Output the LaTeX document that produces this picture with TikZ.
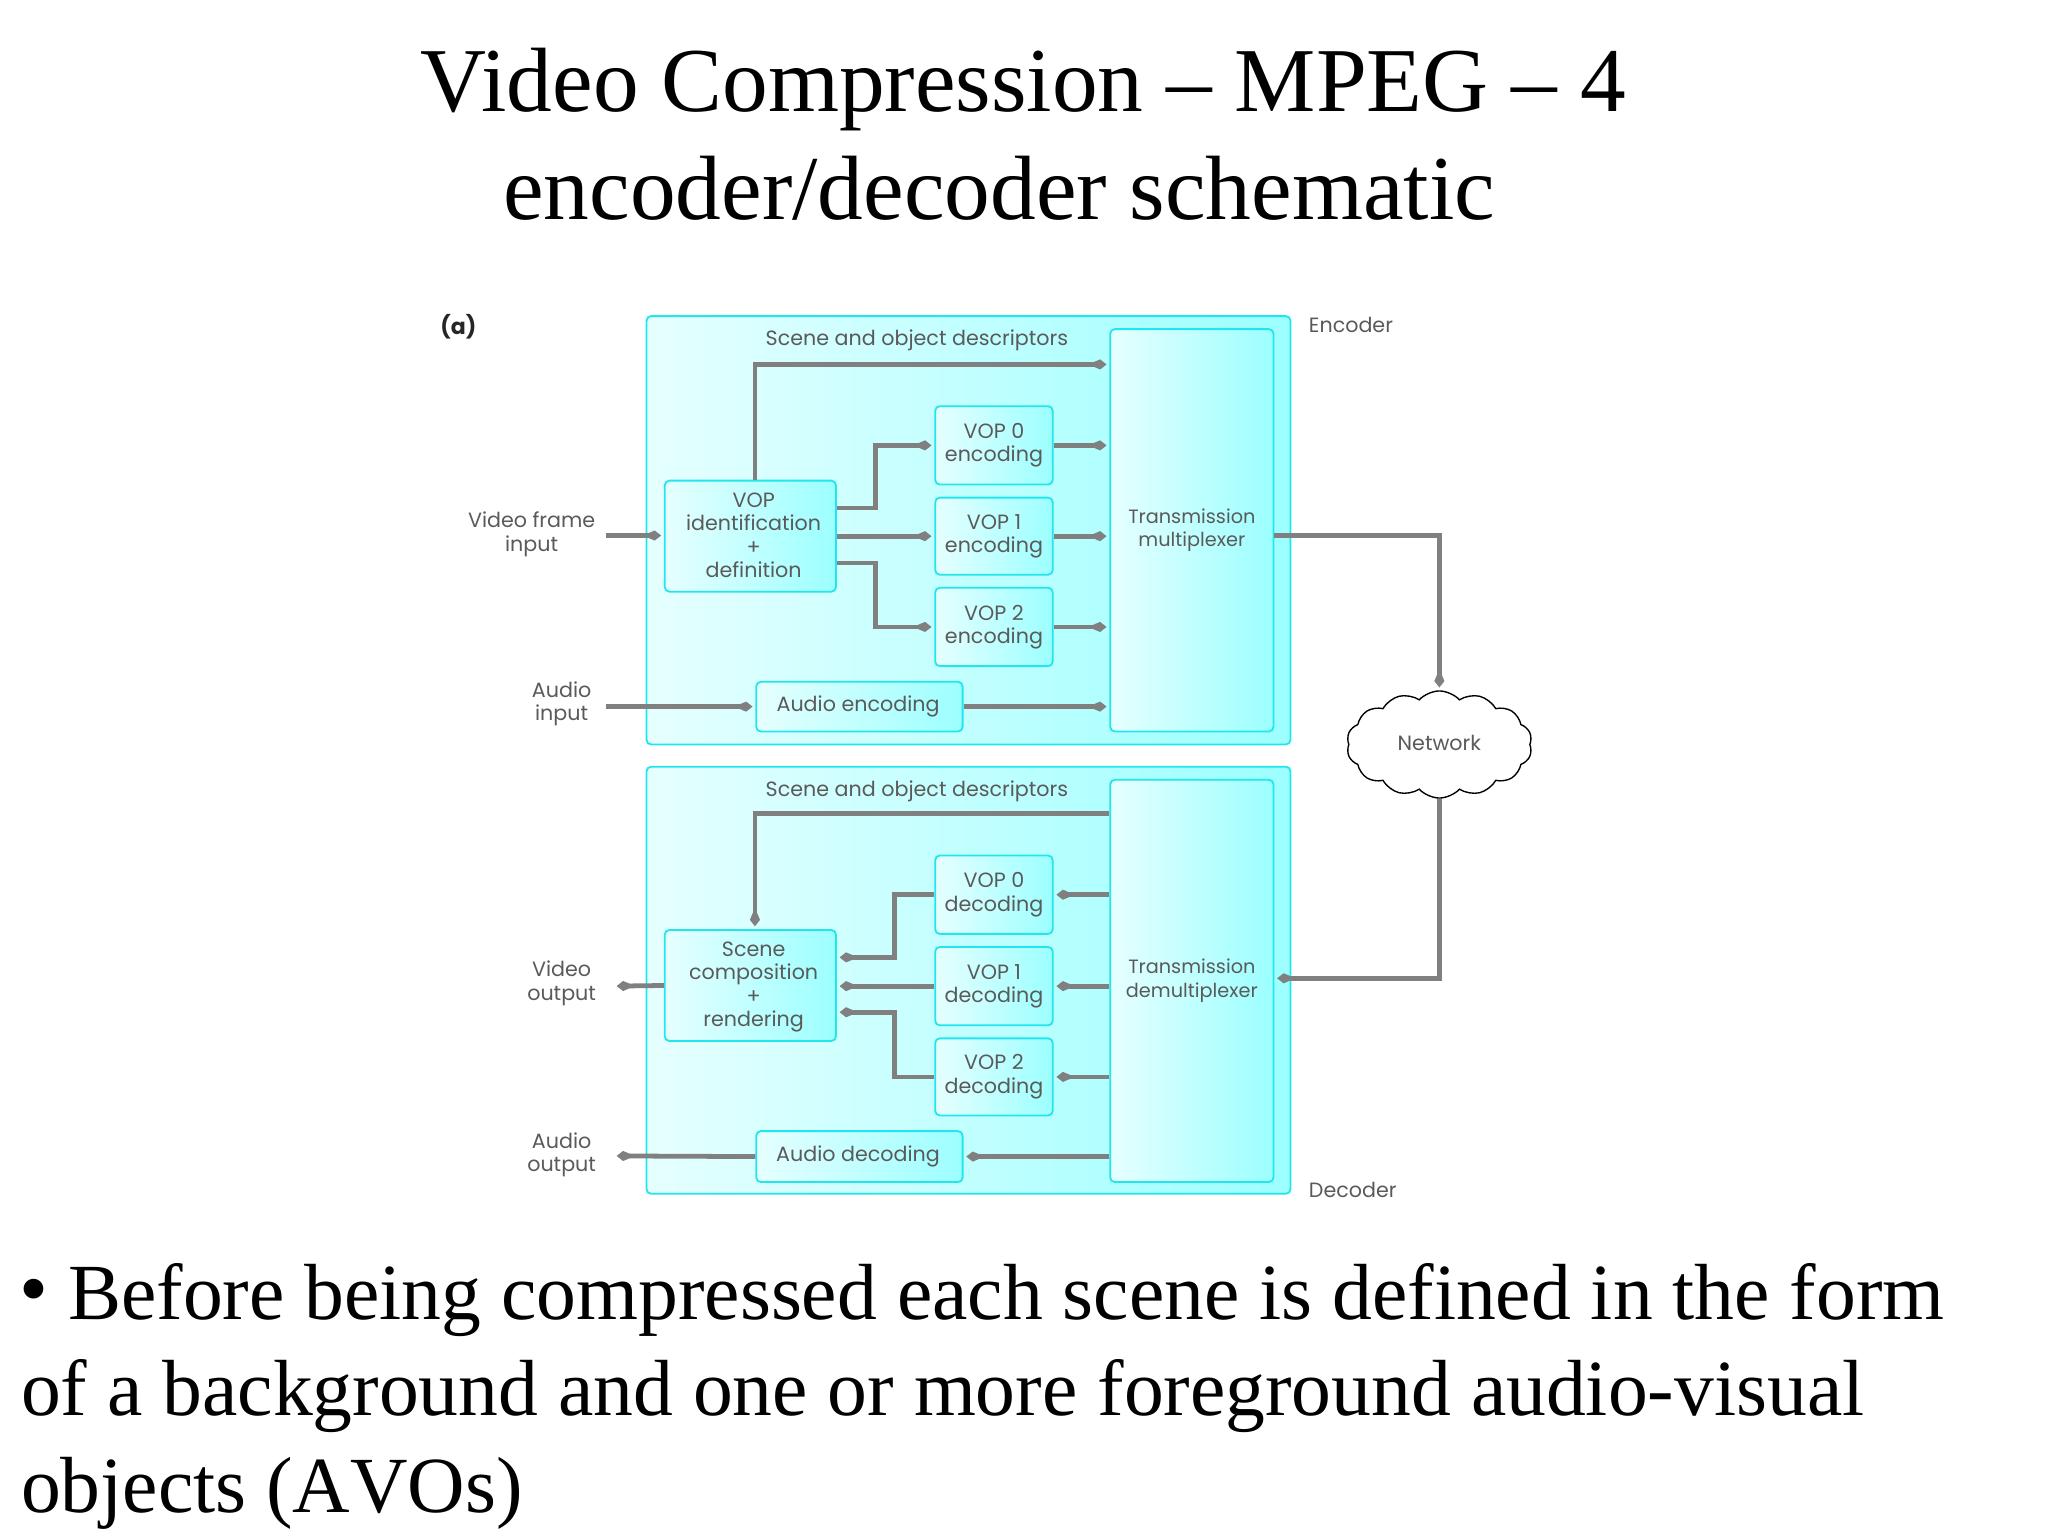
\documentclass[tikz,border=0pt]{standalone}
\usepackage{fontspec}
\setmainfont{Liberation Serif}
\newfontfamily\dgfont{Poppins}
\usetikzlibrary{arrows.meta,shapes.symbols,calc}
\definecolor{cyanline}{HTML}{22E6EE}
\definecolor{pale}{HTML}{E6FFFF}
\definecolor{deep}{HTML}{9CFFFF}
\definecolor{wire}{HTML}{808080}
\definecolor{lbl}{HTML}{5A5A5A}
\tikzset{
  panel/.style={draw=cyanline,line width=2pt,rounded corners=5pt,left color=pale,right color=deep,
    inner sep=0pt,minimum width=#1},
  blockbox/.style={panel=#1,font=\dgfont\fontsize{22.5}{25.6}\selectfont,text=lbl,align=center},
  dlabel/.style={font=\dgfont\fontsize{22.5}{25.6}\selectfont,text=lbl,align=center,inner sep=0pt},
  wirearrow/.style={draw=wire,line width=5.2pt,-{Kite[length=20pt,width=11pt,inset=13pt]},shorten >=3pt},
  titletext/.style={font=\fontsize{99.5}{99.5}\selectfont,inner sep=0pt,anchor=base},
  bodytext/.style={font=\fontsize{86.7}{86.7}\selectfont,inner sep=0pt,anchor=base west},
}
\begin{document}
\begin{tikzpicture}[x=0.05cm,y=-0.05cm]
\useasboundingbox (0,0) rectangle (1568,1176);
% title
\node[titletext] (t1) at (783.5,85) {Video Compression – MPEG – 4};
\node[titletext] (t2) at (765,168) {encoder/decoder schematic};
% panels
\node[panel=493*0.05cm,minimum height=328*0.05cm] (enc) at (741.5,406) {};
\node[panel=493*0.05cm,minimum height=327*0.05cm] (dec) at (741.5,750.5) {};
\node[blockbox=125*0.05cm,minimum height=308*0.05cm] (mux) at (912.5,406) {};
\node[blockbox=125*0.05cm,minimum height=308*0.05cm] (demux) at (912.5,751) {};
\node[dlabel,font=\dgfont\fontsize{21}{25.6}\selectfont] (muxl) at (912.5,406) {Transmission\\multiplexer};
\node[dlabel,font=\dgfont\fontsize{21}{25.6}\selectfont] (demuxl) at (912.5,751) {Transmission\\demultiplexer};
\node[blockbox=131*0.05cm,minimum height=85*0.05cm] (vopid) at (574.5,410.5) {};
\node[blockbox=131*0.05cm,minimum height=85*0.05cm] (scene) at (574.5,754.5) {};
\node[dlabel] (vopidl) at (577,410) {VOP\\identification\\+\\definition};
\node[dlabel] (scenel) at (577,755.5) {Scene\\composition\\+\\rendering};
\node[blockbox=90*0.05cm,minimum height=60*0.05cm] (e0) at (761,341) {VOP 0\\encoding};
\node[blockbox=90*0.05cm,minimum height=59*0.05cm] (e1) at (761,410.5) {VOP 1\\encoding};
\node[blockbox=90*0.05cm,minimum height=60*0.05cm] (e2) at (761,480) {VOP 2\\encoding};
\node[blockbox=90*0.05cm,minimum height=60*0.05cm] (d0) at (761,685) {VOP 0\\decoding};
\node[blockbox=90*0.05cm,minimum height=60*0.05cm] (d1) at (761,755) {VOP 1\\decoding};
\node[blockbox=90*0.05cm,minimum height=59*0.05cm] (d2) at (761,824.5) {VOP 2\\decoding};
\node[blockbox=158*0.05cm,minimum height=38*0.05cm] (ae) at (658,541) {Audio encoding\hspace{3pt}};
\node[blockbox=158*0.05cm,minimum height=39*0.05cm] (ad) at (658,885.5) {Audio decoding\hspace{3pt}};
\node[cloud,cloud puffs=14,cloud puff arc=95,aspect=1.75,draw=black,line width=1.5pt,fill=white,
  minimum width=142*0.05cm,minimum height=82*0.05cm,inner sep=0pt,
  font=\dgfont\fontsize{22.5}{25.6}\selectfont,text=lbl] (net) at (1102,570) {\raisebox{4pt}{Network}};
% plain labels
\node[dlabel] (sd1) at (702,260.5) {Scene and object descriptors};
\node[dlabel] (sd2) at (702,605.5) {Scene and object descriptors};
\node[dlabel] (vin) at (407,409) {Video frame\\input};
\node[dlabel] (ain) at (430,539) {Audio\\input};
\node[dlabel] (vout) at (430,753) {Video\\output};
\node[dlabel] (aout) at (430,884) {Audio\\output};
\node[dlabel,anchor=west] (encl) at (1002,249) {Encoder};
\node[dlabel,anchor=west] (decl) at (1002,911) {Decoder};
\node[dlabel,font=\dgfont\bfseries\fontsize{24}{25.6}\selectfont,text=black!85] (a) at (351,250) {(a)};
% free ends
\coordinate (vins) at (464,410);
\coordinate (ains) at (464,541);
\coordinate (vouts) at (470,755);
\coordinate (aouts) at (470,885);
% encoder connectors
\draw[wirearrow] (vins) -- (vopid.west |- vins);
\draw[wirearrow] (ains) -- (ae.west);
\draw[wirearrow] (vopid.north -| 578,0) |- (mux.west |- 0,279);
\draw[wirearrow] (vopid.east |- 0,389) -- (670,389) |- (e0.west);
\draw[wirearrow] (vopid.east |- e1.west) -- (e1.west);
\draw[wirearrow] (vopid.east |- 0,431) -- (670,431) |- (e2.west);
\draw[wirearrow] (e0.east) -- (mux.west |- e0.east);
\draw[wirearrow] (e1.east) -- (mux.west |- e1.east);
\draw[wirearrow] (e2.east) -- (mux.west |- e2.east);
\draw[wirearrow] (ae.east) -- (mux.west |- ae.east);
\draw[wirearrow] (mux.east |- vins) -| (net.north);
% decoder connectors
\draw[wirearrow] (net.south) |- (demux.east |- 0,749);
\draw[wirearrow] (demux.west |- 0,623) -| (scene.north -| 578,0);
\draw[wirearrow] (demux.west |- d0.east) -- (d0.east);
\draw[wirearrow] (demux.west |- d1.east) -- (d1.east);
\draw[wirearrow] (demux.west |- d2.east) -- (d2.east);
\draw[wirearrow] (demux.west |- ad.east) -- (ad.east);
\draw[wirearrow] (d0.west) -- (685,685) |- (scene.east |- 0,733);
\draw[wirearrow] (d1.west) -- (scene.east |- d1.west);
\draw[wirearrow] (d2.west) -- (685,824.5) |- (scene.east |- 0,775);
\draw[wirearrow] (scene.west) -- (vouts);
\draw[wirearrow] (ad.west) -- (aouts);
% body
\node[font=\fontsize{90}{90}\selectfont,inner sep=0pt,anchor=base west] (bul) at (15,1008) {•};
\node[bodytext] (l1) at (52,1010) {Before being compressed each scene is defined in the form};
\node[bodytext] (l2) at (16,1084) {of a background and one or more foreground audio-visual};
\node[bodytext,font=\fontsize{86.7}{86.7}\selectfont\addfontfeature{Kerning=Off}] (l3) at (16,1158) {objects (AVOs)};
\end{tikzpicture}
\end{document}
